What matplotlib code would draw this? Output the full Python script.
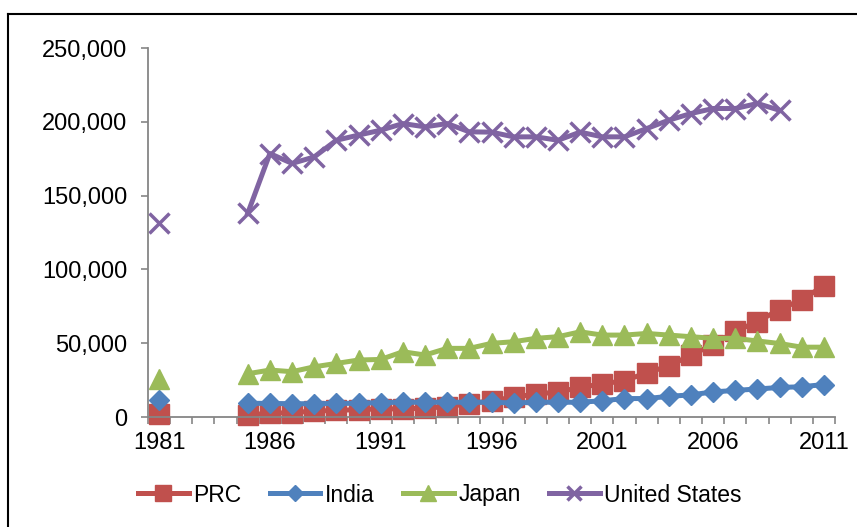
import numpy as np
from matplotlib import pyplot as plt
from matplotlib.lines import Line2D
from matplotlib.ticker import FuncFormatter, FixedLocator

plt.rcParams['font.family'] = ['Liberation Sans', 'DejaVu Sans']

nan = np.nan
years = list(range(1981, 2012))
# 1982-1984 missing in the source, US stops at 2009
prc = [2000, nan, nan, nan,
       1500, 2500, 3000, 4000, 4500, 5000, 5500, 5500, 6000, 7000,
       9000, 11000, 13500, 15500, 17000, 20000, 22500, 24500, 30000, 34500,
       42000, 49000, 58000, 64700, 72800, 79600, 88900]
india = [11300, nan, nan, nan,
         9300, 9200, 9000, 9000, 9200, 9300, 9800, 10000, 10000, 10000,
         10000, 10000, 9500, 10000, 10000, 10000, 11000, 12500, 12500, 14000,
         15000, 17000, 18000, 19000, 20000, 20500, 22000]
japan = [25500, nan, nan, nan,
         29300, 31800, 30700, 34000, 36300, 38600, 39000, 44200, 42000, 46500,
         46500, 49900, 51000, 53300, 54400, 57700, 55500, 55500, 56600, 55500,
         54400, 53300, 53300, 51500, 49800, 47300, 47300]
usa = [131700, nan, nan, nan,
       138000, 178500, 171800, 176200, 187500, 191000, 194300, 198800, 196600, 198800,
       193200, 193000, 189800, 189800, 187500, 193000, 189800, 189800, 195400, 201100,
       205600, 209000, 209000, 212400, 207800, nan, nan]

series = [
    ('PRC', prc, '#C0504D', 's', 14.5),
    ('India', india, '#4F81BD', 'D', 10.5),
    ('Japan', japan, '#9BBB59', '^', 15),
    ('United States', usa, '#8064A2', 'x', 14),
]

fig = plt.figure(figsize=(8.57, 5.27), dpi=100)
ax = fig.add_axes([148 / 857, 1 - 417 / 527, 687 / 857, 369 / 527])

for name, vals, col, mk, ms in series:
    ax.plot(years, vals, color=col, lw=3.6, marker=mk, ms=ms,
            mec=col, mfc=col, mew=2.5 if mk == 'x' else 1,
            label=name, clip_on=False)

ax.set_xlim(1980.5, 2011.5)
ax.set_ylim(0, 250000)
ax.set_yticks(range(0, 250001, 50000))
ax.yaxis.set_major_formatter(FuncFormatter(lambda v, p: '{:,.0f}'.format(v)))

# tick marks between categories, labels every 5 years
ax.xaxis.set_major_locator(FixedLocator(np.arange(1980.5, 2012, 1)))
ax.xaxis.set_major_formatter(FuncFormatter(lambda v, p: ''))
ax.xaxis.set_minor_locator(FixedLocator(range(1981, 2012, 5)))
ax.xaxis.set_minor_formatter(FuncFormatter(lambda v, p: '%d' % v))
ax.tick_params(axis='x', which='major', length=5, color='#868686', width=1.2)
ax.tick_params(axis='x', which='minor', length=0, pad=11, labelsize=17)
ax.tick_params(axis='y', length=5, color='#868686', width=1.2, pad=10, labelsize=17)

for s in ['top', 'right']:
    ax.spines[s].set_visible(False)
for s in ['left', 'bottom']:
    ax.spines[s].set_color('#868686')
    ax.spines[s].set_linewidth(1.3)

fig.legend(loc='center', bbox_to_anchor=(440 / 857, 1 - 495 / 527), ncol=4,
           frameon=False, fontsize=16.5, handlelength=2.2, handletextpad=0.2,
           columnspacing=1.25, markerscale=0.75)

# chart frame (top and left edges visible)
fig.add_artist(Line2D([8 / 857, 8 / 857], [0, 1 - 14 / 527], color='black', lw=1.5))
fig.add_artist(Line2D([8 / 857, 1], [1 - 14 / 527, 1 - 14 / 527], color='black', lw=1.5))

fig.savefig('out.png', dpi=100)
